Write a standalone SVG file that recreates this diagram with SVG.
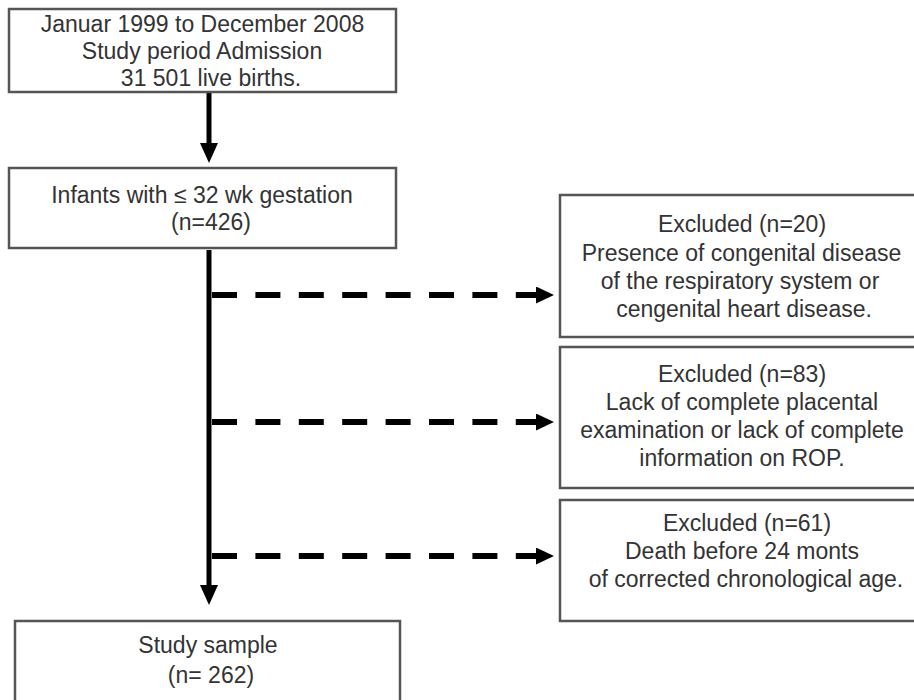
<svg xmlns="http://www.w3.org/2000/svg" width="914" height="700" viewBox="0 0 914 700">
<style>
.box{fill:#fff;stroke:#555;stroke-width:2.5}
.t{font-family:"Liberation Sans",Arial,sans-serif;font-size:23px;fill:#333;text-anchor:middle}
.solid{stroke:#000;stroke-width:5;fill:none}
.dash{stroke:#000;stroke-width:6;fill:none;stroke-dasharray:25 18.4}
</style>
<defs>
<marker id="ahV" markerUnits="userSpaceOnUse" viewBox="0 0 20 18" refX="1" refY="9" markerWidth="20" markerHeight="18" orient="auto">
<path d="M0,0 L20,9 L0,18 z" fill="#000"/>
</marker>
<marker id="ahH" markerUnits="userSpaceOnUse" viewBox="0 0 18 17" refX="1" refY="8.5" markerWidth="18" markerHeight="17" orient="auto">
<path d="M0,0 L18,8.5 L0,17 z" fill="#000"/>
</marker>
</defs>
<rect width="914" height="700" fill="#fff"/>
<g id="connectors">
<line class="solid" x1="209" y1="93" x2="209" y2="144" marker-end="url(#ahV)"/>
<line class="solid" x1="209" y1="250" x2="209" y2="586" marker-end="url(#ahV)"/>
<line class="dash" x1="212" y1="295" x2="537" y2="295" marker-end="url(#ahH)"/>
<line class="dash" x1="212" y1="422" x2="537" y2="422" marker-end="url(#ahH)"/>
<line class="dash" x1="212" y1="556" x2="537" y2="556" marker-end="url(#ahH)"/>
</g>
<g id="node-period">
<rect class="box" x="9" y="9" width="387" height="83"/>
<text class="t" x="202.5" y="32">Januar 1999 to December 2008</text>
<text class="t" x="202" y="59">Study period Admission</text>
<text class="t" x="211" y="86">31 501 live births.</text>
</g>
<g id="node-infants">
<rect class="box" x="9" y="168" width="387" height="80"/>
<text class="t" x="202" y="203">Infants with ≤ 32 wk gestation</text>
<text class="t" x="211" y="230">(n=426)</text>
</g>
<g id="node-excl20">
<rect class="box" x="560" y="195" width="400" height="142"/>
<text class="t" x="742" y="232">Excluded (n=20)</text>
<text class="t" x="741.5" y="261">Presence of congenital disease</text>
<text class="t" x="740" y="289">of the respiratory system or</text>
<text class="t" x="744" y="317">cengenital heart disease.</text>
</g>
<g id="node-excl83">
<rect class="box" x="560" y="347" width="400" height="141"/>
<text class="t" x="742" y="382">Excluded (n=83)</text>
<text class="t" x="742" y="410">Lack of complete placental</text>
<text class="t" x="742" y="438">examination or lack of complete</text>
<text class="t" x="742" y="466">information on ROP.</text>
</g>
<g id="node-excl61">
<rect class="box" x="560" y="500" width="400" height="121"/>
<text class="t" x="747" y="531">Excluded (n=61)</text>
<text class="t" x="742" y="559">Death before 24 monts</text>
<text class="t" x="746" y="587">of corrected chronological age.</text>
</g>
<g id="node-sample">
<rect class="box" x="15" y="621" width="385" height="90"/>
<text class="t" x="208" y="653">Study sample</text>
<text class="t" x="211" y="683">(n= 262)</text>
</g>
</svg>
